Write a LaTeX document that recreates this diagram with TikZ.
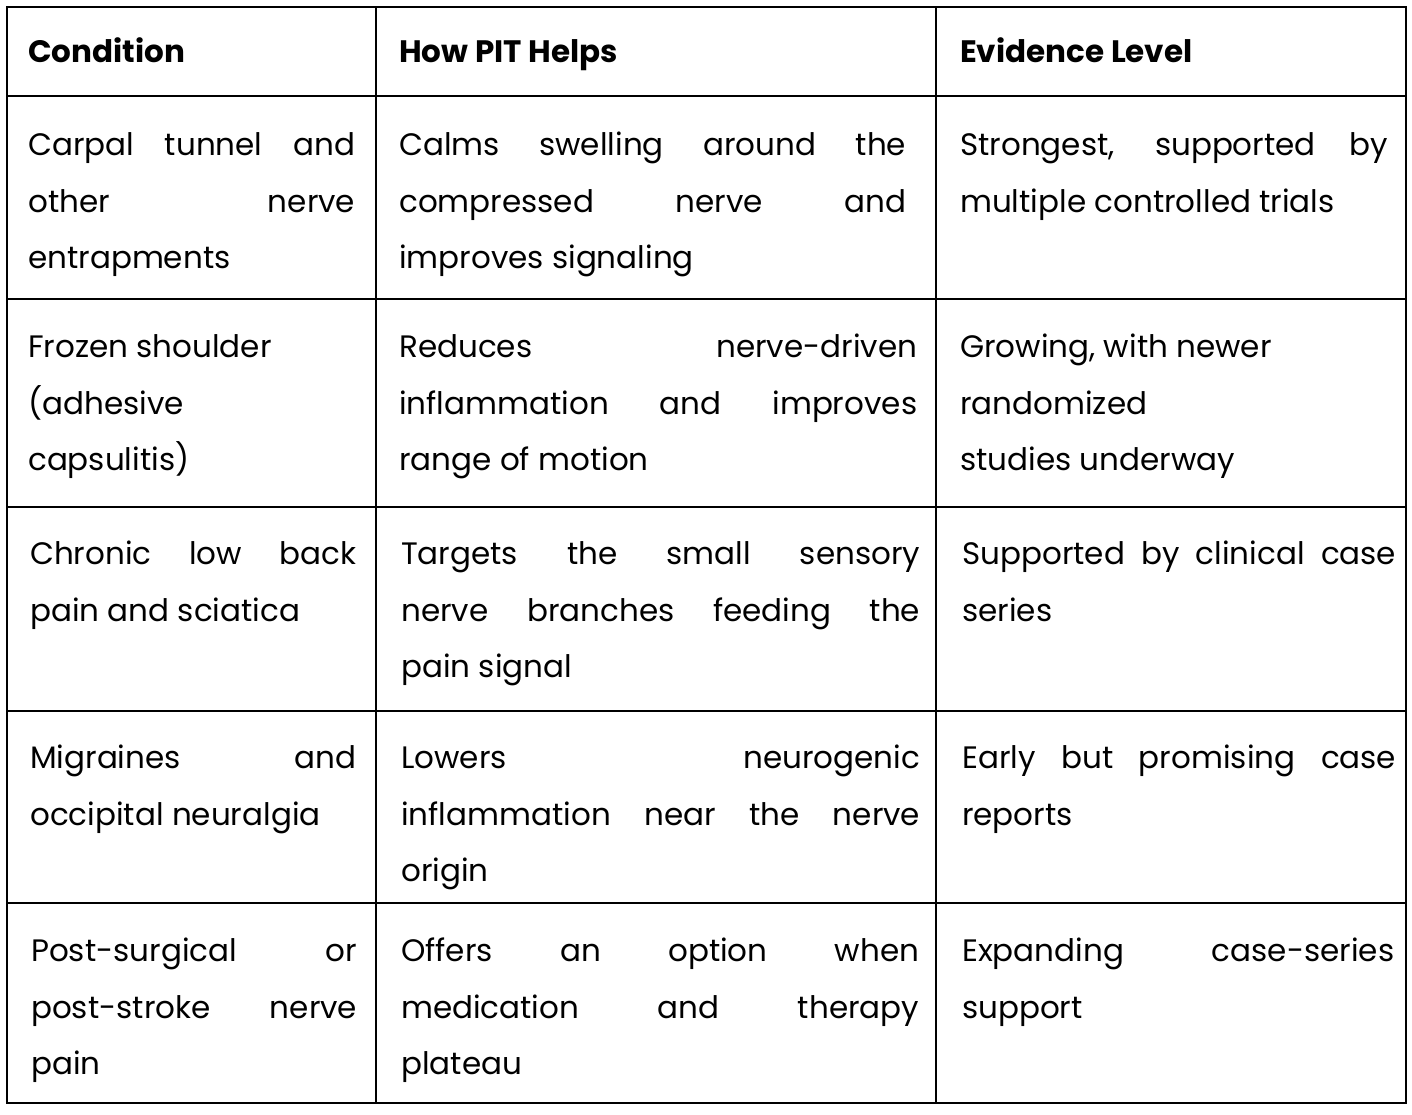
\documentclass[tikz,border=0pt]{standalone}
\usepackage{fontspec}
\setmainfont{Poppins}
\begin{document}
\begin{tikzpicture}[x=1pt,y=-1pt,
 cell/.style={anchor=north west,inner sep=0pt,align=justify,font=\fontsize{31}{56.5}\selectfont},
 head/.style={anchor=north west,inner sep=0pt,font=\fontsize{31}{56.5}\selectfont\bfseries}]
\useasboundingbox[fill=white] (0,0) rectangle (1412,1114);
\draw[line width=2.5pt] (7,7) rectangle (1406,1103);
\foreach \y in {96,299,507,711,903} \draw[line width=2.5pt] (7,\y) -- (1406,\y);
\foreach \x in {376,936} \draw[line width=2.5pt] (\x,7) -- (\x,1103);
\def\A{28}\def\B{399}\def\C{960}
\node[head] (h1) at (\A,23) {\strut Condition};
\node[head] (h2) at (\B,23) {\strut How PIT Helps};
\node[head] (h3) at (\C,23) {\strut Evidence Level};
% row 1
\node[cell,text width=327pt] (a1) at (\A,116) {\strut Carpal tunnel and\linebreak other nerve\linebreak entrapments};
\node[cell,text width=507pt] (b1) at (\B,116) {\strut Calms swelling around the\linebreak compressed nerve and\linebreak improves signaling};
\node[cell,text width=428pt] (c1) at (\C,116) {\strut Strongest, supported by\linebreak multiple controlled trials};
% row 2
\node[cell,text width=327pt] (a2) at (\A,318) {\strut Frozen shoulder\\(adhesive\\capsulitis)};
\node[cell,text width=518pt] (b2) at (\B,318) {\strut Reduces nerve-driven\linebreak inflammation and improves\linebreak range of motion};
\node[cell,text width=432pt] (c2) at (\C,318) {\strut Growing, with newer\\randomized\\studies underway};
% row 3
\node[cell,text width=326pt] (a3) at (\A+2,525) {\strut Chronic low back\linebreak pain and sciatica};
\node[cell,text width=519pt] (b3) at (\B+2,525) {\strut Targets the small sensory\linebreak nerve branches feeding the\linebreak pain signal};
\node[cell,text width=434pt] (c3) at (\C+2,525) {\strut Supported by clinical case\linebreak series};
% row 4
\node[cell,text width=326pt] (a4) at (\A+2,729) {\strut Migraines and\linebreak occipital neuralgia};
\node[cell,text width=519pt] (b4) at (\B+2,729) {\strut Lowers neurogenic\linebreak inflammation near the nerve\linebreak origin};
\node[cell,text width=434pt] (c4) at (\C+2,729) {\strut Early but promising case\linebreak reports};
% row 5
\node[cell,text width=326pt] (a5) at (\A+3,922) {\strut Post-surgical or\linebreak post-stroke nerve\linebreak pain};
\node[cell,text width=518pt] (b5) at (\B+2,922) {\strut Offers an option when\linebreak medication and therapy\linebreak plateau};
\node[cell,text width=432pt] (c5) at (\C+2,922) {\strut Expanding case-series\linebreak support};
\end{tikzpicture}
\end{document}
